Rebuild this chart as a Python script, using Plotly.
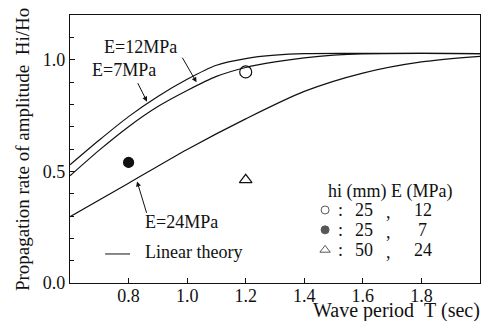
import plotly.graph_objects as go

# Wave period T (sec)
T_e7 = [0.6, 0.7, 0.8, 0.9, 1.0, 1.1, 1.2, 1.3, 1.4, 1.6, 1.8, 2.0]
H_e7 = [0.529, 0.64, 0.745, 0.835, 0.912, 0.975, 1.005, 1.02, 1.027, 1.028, 1.028, 1.027]

T_e12 = [0.6, 0.7, 0.8, 0.9, 1.0, 1.1, 1.2, 1.3, 1.4, 1.5, 1.6, 1.8, 2.0]
H_e12 = [0.48, 0.595, 0.70, 0.79, 0.862, 0.925, 0.965, 0.99, 1.008, 1.02, 1.026, 1.028, 1.027]

T_e24 = [0.6, 0.8, 1.0, 1.2, 1.4, 1.6, 1.8, 2.0]
H_e24 = [0.297, 0.447, 0.598, 0.735, 0.858, 0.94, 0.99, 1.015]

# Experimental points
exp_T = [1.2, 0.8, 1.2]
exp_H = [0.945, 0.54, 0.462]
exp_hi = ["25", "25", "50"]
exp_E = ["12", "7", "24"]

x_ticks = [0.8, 1.0, 1.2, 1.4, 1.6, 1.8]
y_ticks = [0.0, 0.5, 1.0]

FONT = "'Liberation Serif', 'DejaVu Serif', 'Times New Roman', serif"
INK = "#111111"

fig = go.Figure()
line = dict(color=INK, width=1.2, shape="spline", smoothing=0.8)
for T, H in [(T_e7, H_e7), (T_e12, H_e12), (T_e24, H_e24)]:
    fig.add_trace(go.Scatter(x=T, y=H, mode="lines", line=line,
                             showlegend=False, hoverinfo="skip"))

sym = ["circle-open", "circle", "triangle-up-open"]
sizes = [12, 10, 11]
for i in range(3):
    fig.add_trace(go.Scatter(x=[exp_T[i]], y=[exp_H[i]], mode="markers",
                             marker=dict(symbol=sym[i], size=sizes[i], color=INK,
                                         line=dict(width=1.2, color=INK)),
                             showlegend=False, hoverinfo="skip"))

# legend block symbols
leg_y = [0.327, 0.238, 0.148]
fig.add_trace(go.Scatter(x=[1.471] * 3, y=leg_y, mode="markers",
                         marker=dict(symbol=sym, size=[8, 8, 9], color=INK,
                                     line=dict(width=1, color=INK)),
                         showlegend=False, hoverinfo="skip"))

ann = []
def txt(x, y, s, xanchor="left", size=18, xref="x", yref="y", angle=0):
    ann.append(dict(x=x, y=y, text=s, xref=xref, yref=yref, showarrow=False,
                    xanchor=xanchor, yanchor="middle", textangle=angle,
                    font=dict(family=FONT, size=size, color=INK)))

def arrow(x, y, ax, ay):
    ann.append(dict(x=x, y=y, ax=ax, ay=ay, text="", xref="x", yref="y",
                    showarrow=True, arrowhead=2, arrowsize=1, arrowwidth=1,
                    arrowcolor=INK))

txt(0.709, 1.058, "E=12MPa")
txt(0.668, 0.955, "E=7MPa")
txt(0.849, 0.274, "E=24MPa")
arrow(1.032, 0.899, -15, -26)
arrow(0.863, 0.812, -10, -20)
arrow(0.829, 0.455, 10, 33)

txt(0.849, 0.139, "Linear theory")
fig.add_shape(type="line", x0=0.72, x1=0.805, y0=0.13, y1=0.13,
              line=dict(color=INK, width=1))

txt(1.692, 0.408, "hi (mm) E (MPa)", xanchor="center")
for i in range(3):
    txt(1.522, leg_y[i], ":", xanchor="center")
    txt(1.604, leg_y[i], exp_hi[i], xanchor="center")
    txt(1.686, leg_y[i] - 0.01, ",", xanchor="center")
    txt(1.805, leg_y[i], exp_E[i], xanchor="center")

txt(-0.117, 0.496, "Propagation rate of amplitude\u00a0\u00a0Hi/Ho", xanchor="center",
    size=19, xref="paper", yref="paper", angle=-90)
txt(1.005, -0.104, "Wave period\u00a0\u00a0T (sec)", xanchor="right", size=20,
    xref="paper", yref="paper")

# page body has an 8px default margin; size figure so the plot box lands at
# x 70..480, y 15..283 in the 490x321 window
fig.update_layout(
    width=482, height=313,
    margin=dict(l=62, r=10, t=7, b=38),
    paper_bgcolor="white", plot_bgcolor="white",
    font=dict(family=FONT, size=18, color=INK),
    annotations=ann,
    showlegend=False,
)
fig.update_xaxes(range=[0.6, 2.0], tickvals=x_ticks, ticktext=[f"{v:.1f}" for v in x_ticks],
                 ticks="inside", ticklen=5, tickcolor=INK, showgrid=False, zeroline=False,
                 showline=True, mirror=True, linecolor=INK, linewidth=1.2,
                 ticklabelstandoff=-4,
                 tickfont=dict(family=FONT, size=18, color=INK))
fig.update_yaxes(range=[0, 1.2], tickvals=y_ticks, ticktext=[f"{v:.1f}" for v in y_ticks],
                 ticks="inside", ticklen=5, tickcolor=INK, showgrid=False, zeroline=False,
                 showline=True, mirror=True, linecolor=INK, linewidth=1.2,
                 minor=dict(tickvals=[0.1, 0.2, 0.3, 0.4, 0.6, 0.7, 0.8, 0.9, 1.1],
                            ticks="inside", ticklen=4, tickcolor=INK, showgrid=False),
                 tickfont=dict(family=FONT, size=18, color=INK))

fig.write_html("out.html")
